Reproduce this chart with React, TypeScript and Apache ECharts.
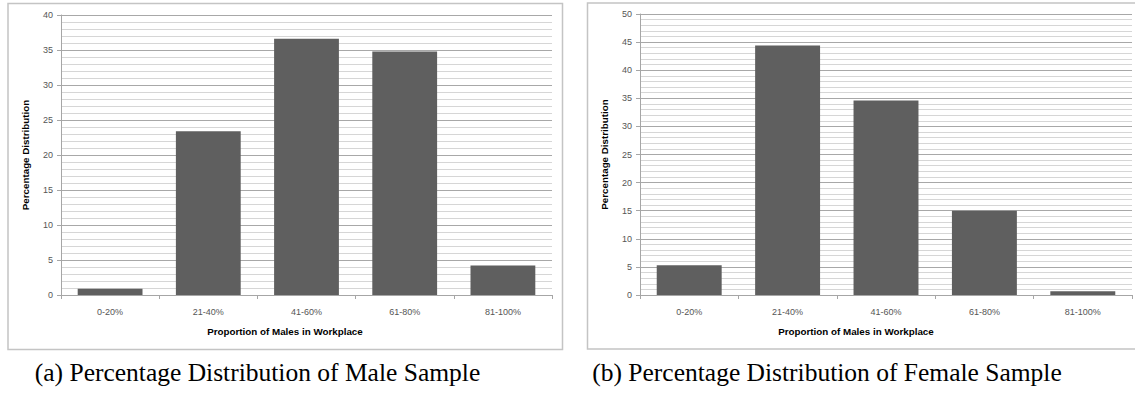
import React, { useEffect, useRef } from "react";
import * as echarts from "echarts";

const categories = ["0-20%", "21-40%", "41-60%", "61-80%", "81-100%"];
const maleValues = [0.9, 23.4, 36.6, 34.8, 4.2];
const femaleValues = [5.3, 44.4, 34.6, 15.0, 0.65];
const yTitle = "Percentage Distribution";
const xTitle = "Proportion of Males in Workplace";
const captionA = "(a) Percentage Distribution of Male Sample";
const captionB = "(b) Percentage Distribution of Female Sample";

const W = 1135;
const H = 394;
const tickFont = "'Liberation Sans', Arial, sans-serif";

function yAxis(gridIndex: number, max: number) {
  return {
    type: "value",
    gridIndex,
    min: 0,
    max,
    interval: 5,
    name: yTitle,
    nameLocation: "middle",
    nameGap: 31,
    nameTextStyle: { fontFamily: tickFont, fontSize: 9.8, fontWeight: "bold", color: "#000" },
    axisLine: { show: true, lineStyle: { color: "#a6a6a6", width: 1 } },
    axisTick: { show: true, length: 4, lineStyle: { color: "#a6a6a6" } },
    axisLabel: { fontFamily: tickFont, fontSize: 9, color: "#555", margin: 8 },
    splitLine: { show: true, lineStyle: { color: "#a8a8a8", width: 1 } },
    minorTick: { show: false, splitNumber: 5 },
    minorSplitLine: { show: true, lineStyle: { color: "#d6d6d6", width: 1 } },
  };
}

function xAxis(gridIndex: number) {
  return {
    type: "category",
    gridIndex,
    data: categories,
    axisLine: { show: true, lineStyle: { color: "#a6a6a6", width: 1 } },
    axisTick: { show: true, length: 4, interval: 0, alignWithLabel: false, lineStyle: { color: "#a6a6a6" } },
    axisLabel: { fontFamily: tickFont, fontSize: 9, color: "#555", margin: 12, interval: 0 },
    splitLine: { show: false },
  };
}

export default function App() {
  const ref = useRef<HTMLDivElement>(null);
  useEffect(() => {
    if (!ref.current) return;
    const chart = echarts.init(ref.current, null, { renderer: "svg" });
    const titleStyle = {
      text: xTitle,
      fontFamily: tickFont,
      fontSize: 9.8,
      fontWeight: "bold",
      fill: "#000",
      align: "center",
      verticalAlign: "middle",
    };
    const captionStyle = {
      fontFamily: "'Liberation Serif', 'Times New Roman', serif",
      fontSize: 25.5,
      fill: "#000",
      align: "center",
      verticalAlign: "middle",
    };
    chart.setOption({
      animation: false,
      backgroundColor: "#fff",
      grid: [
        { left: 61, top: 15, right: W - 552, bottom: H - 295 },
        { left: 640, top: 14, right: W - 1132, bottom: H - 295 },
      ],
      xAxis: [xAxis(0), xAxis(1)],
      yAxis: [yAxis(0, 40), yAxis(1, 50)],
      series: [
        {
          type: "bar",
          xAxisIndex: 0,
          yAxisIndex: 0,
          data: maleValues,
          barCategoryGap: "34%",
          itemStyle: { color: "#5f5f5f" },
        },
        {
          type: "bar",
          xAxisIndex: 1,
          yAxisIndex: 1,
          data: femaleValues,
          barCategoryGap: "34%",
          itemStyle: { color: "#5f5f5f" },
        },
      ],
      graphic: [
        {
          type: "rect",
          shape: { x: 8, y: 3.5, width: 554.5, height: 346 },
          style: { fill: "none", stroke: "#c4c4c4", lineWidth: 1.5 },
          z: -1,
        },
        {
          type: "rect",
          shape: { x: 587.5, y: 3, width: 560, height: 346 },
          style: { fill: "none", stroke: "#c4c4c4", lineWidth: 1.5 },
          z: -1,
        },
        { type: "text", x: 285, y: 331, style: { ...titleStyle } },
        { type: "text", x: 856, y: 331, style: { ...titleStyle } },
        { type: "text", x: 257.5, y: 372, style: { ...captionStyle, text: captionA } },
        { type: "text", x: 827, y: 372, style: { ...captionStyle, text: captionB } },
      ],
    });
    return () => chart.dispose();
  }, []);
  return (
    <div
      ref={ref}
      style={{ position: "absolute", left: 0, top: 0, width: W, height: H }}
    />
  );
}
